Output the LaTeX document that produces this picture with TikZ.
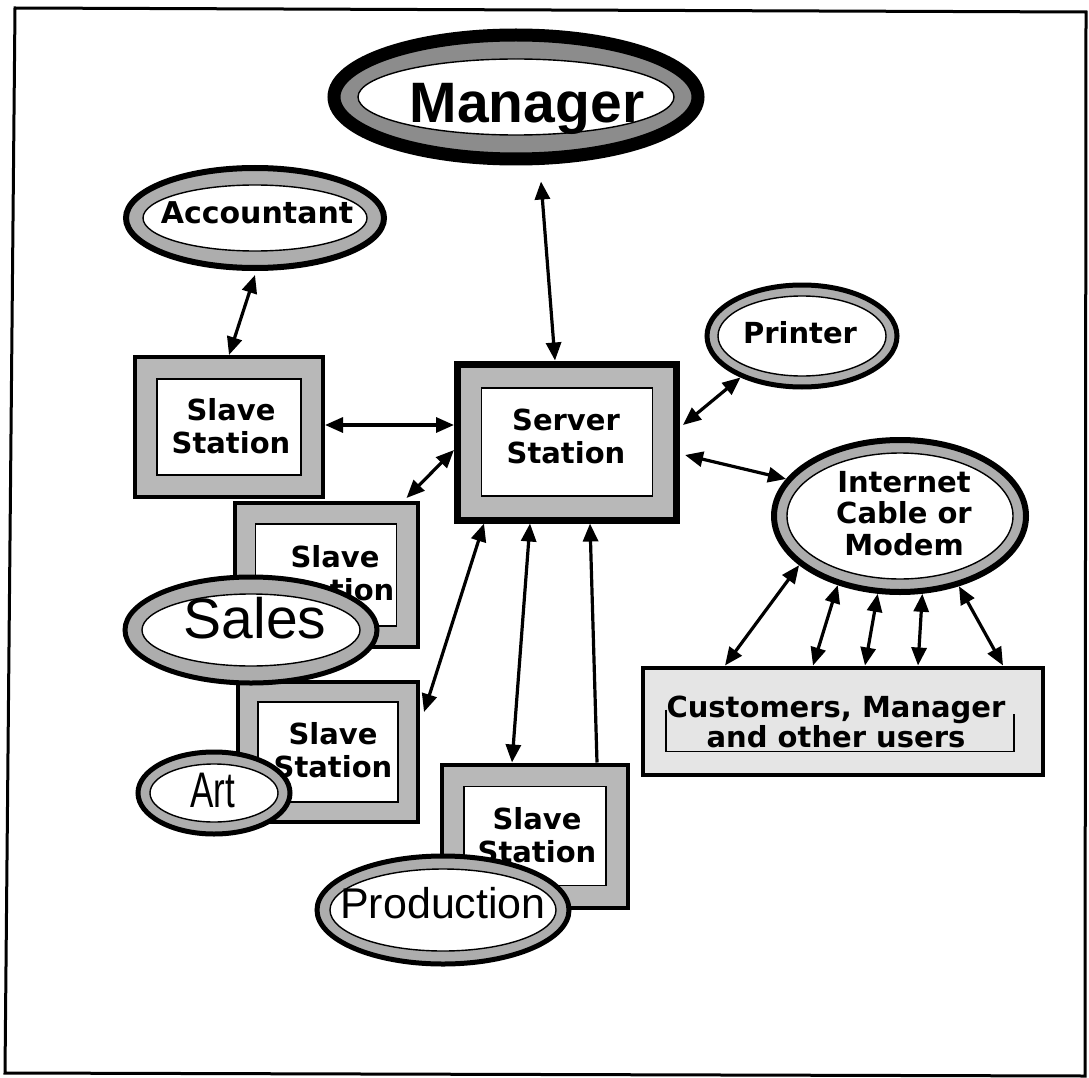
\documentclass[tikz,border=0pt]{standalone}
\usepackage{fontspec}
\usetikzlibrary{shapes.geometric,arrows.meta,calc}
\newfontfamily\vsans{DejaVu Sans}
\newfontfamily\asans{Liberation Sans}
\definecolor{ringband}{gray}{0.68}
\definecolor{boxband}{gray}{0.72}
\definecolor{panel}{gray}{0.90}

\tikzset{
  ringgap/.store in=\ringgap, ringgap=12pt,
  boxgap/.store in=\boxgap, boxgap=22pt,
  % ellipse with a dark rim, a grey band and a thin inner outline
  ring/.style={ellipse, draw=black, fill=ringband, inner sep=0pt,
    path picture={
      \draw[fill=white, line width=1.4pt]
        let \p1=(path picture bounding box.north east),
            \p2=(path picture bounding box.south west) in
        ($(\p1)!0.5!(\p2)$) ellipse [x radius={(\x1-\x2)/2-\ringgap},
                                     y radius={(\y1-\y2)/2-\ringgap}];
    }},
  % framed box with a grey band and a white inner panel
  station/.style={rectangle, draw=black, line width=4pt, fill=boxband, inner sep=0pt,
    path picture={
      \draw[fill=white, line width=1.4pt]
        ([xshift=\boxgap,yshift=-\boxgap]path picture bounding box.north west)
        rectangle
        ([xshift=-\boxgap,yshift=\boxgap]path picture bounding box.south east);
    }},
  % multi-line labels sit on the baseline of their last line
  lab/.style={font=\vsans\bfseries\fontsize{29}{33}\selectfont, align=center,
    anchor=base, inner sep=0pt},
  biglab/.style={anchor=base, inner sep=0pt},
  tip/.tip={Triangle[length=18pt,width=15pt]},
  link/.style={line width=3.2pt, tip-tip},
  oneway/.style={line width=3.2pt, -tip},
}

\begin{document}
\begin{tikzpicture}[x=1pt,y=-1pt]
\useasboundingbox (0,0) rectangle (1089,1078);
\fill[white] (0,0) rectangle (1089,1078);

% outer frame
\draw[line width=3pt] (15,8) -- (1086,12) -- (1085,1076) -- (5,1073) -- cycle;

% stations
\node[station, minimum width=188pt, minimum height=140pt] (slave1) at (229,427) {};
\node[lab] (slave1t) at (231,453) {Slave\\Station};

\node[station, line width=7pt, boxgap=24pt, minimum width=219pt, minimum height=156pt] (server) at (567,442) {};
\node[lab] (servert) at (566,463) {Server\\Station};

\node[station, boxgap=21pt, minimum width=183pt, minimum height=144pt] (slave2) at (326,575) {};
\node[lab] (slave2t) at (335,600) {Slave\\Station};

\node[station, boxgap=20pt, minimum width=180pt, minimum height=140pt] (slave3) at (328,752) {};
\node[lab] (slave3t) at (333,777) {Slave\\Station};

\node[station, boxgap=22pt, minimum width=186pt, minimum height=143pt] (slave4) at (535,836) {};
\node[lab] (slave4t) at (537,862) {Slave\\Station};

% users panel
\node[rectangle, draw=black, line width=4pt, fill=panel, minimum width=400pt,
      minimum height=107pt, inner sep=0pt] (customers) at (843,721) {};
\draw[line width=1.3pt] ([xshift=25pt,yshift=-44pt]customers.north west)
  |- ([xshift=-31pt,yshift=25pt]customers.south east) -- ++(0,-38);
\node[lab, font=\vsans\bfseries\fontsize{29}{30}\selectfont] (customerst) at (836,747)
  {Customers, Manager\\and other users};

% ellipses
\node[ring, line width=13pt, ringgap=24pt, fill=black!45, minimum width=364pt, minimum height=124pt] (manager) at (516,97) {};
\node[biglab, font=\asans\bfseries\fontsize{57}{60}\selectfont] (managert) at (527,123) {Manager};

\node[ring, line width=6pt, ringgap=17pt, minimum width=258pt, minimum height=100pt] (accountant) at (255,218) {};
\node[lab, font=\vsans\bfseries\fontsize{30}{33}\selectfont] (accountantt) at (257,223) {Accountant};

\node[ring, line width=5pt, ringgap=11pt, minimum width=190pt, minimum height=102pt] (printer) at (802,336) {};
\node[lab] (printert) at (800,343) {Printer};

\node[ring, line width=6pt, ringgap=13pt, minimum width=252pt, minimum height=152pt] (internet) at (900,516) {};
\node[lab, font=\vsans\bfseries\fontsize{29}{31.5}\selectfont] (internett) at (904,555) {Internet\\Cable or\\Modem};

\node[ring, line width=5pt, ringgap=17pt, minimum width=252pt, minimum height=106pt] (sales) at (251,630) {};
\node[biglab, font=\asans\fontsize{57}{60}\selectfont] (salest) at (255,638) {Sales};

\node[ring, line width=5pt, ringgap=12pt, minimum width=152pt, minimum height=82pt] (art) at (214,793) {};
\node[biglab, font=\asans\fontsize{50}{55}\selectfont] (artt) at (213,807) {\scalebox{0.7}[1]{Art}};

\node[ring, line width=5pt, ringgap=13pt, minimum width=252pt, minimum height=108pt] (production) at (443,910) {};
\node[biglab, font=\asans\fontsize{43}{48}\selectfont] (productiont) at (443,918) {Production};

% connections
\draw[link] ([xshift=25pt,yshift=-16pt]manager.south) -- ([xshift=-12pt]server.north);
\draw[link] ([yshift=-4pt]accountant.south) -- (slave1.north);
\draw[link] ([yshift=2pt]slave1.east) -- ([yshift=17pt]server.west);
\draw[link] ([yshift=-8pt]server.west) -- ([xshift=-13pt,yshift=3pt]slave2.north east);
\draw[link] ([xshift=30pt]server.south west) -- ([xshift=4pt,yshift=40pt]slave3.east);
\draw[link] ([xshift=-37pt]server.south) -- ([xshift=-23pt]slave4.north);
\draw[oneway] ([xshift=62pt]slave4.north) -- ([xshift=23pt]server.south);
\draw[link] ([xshift=3pt,yshift=17pt]server.east) -- (printer.214);
\draw[link] ([xshift=5pt,yshift=-13pt]server.east) -- (internet.162);
\draw[link] (internet.206) -- ([xshift=84pt]customers.north west);
\draw[link] (internet.228) -- ([xshift=172pt]customers.north west);
\draw[link] (internet.254) -- ([xshift=224pt]customers.north west);
\draw[link] (internet.286) -- ([xshift=277pt]customers.north west);
\draw[link] (internet.310) -- ([xshift=362pt]customers.north west);
\end{tikzpicture}
\end{document}
